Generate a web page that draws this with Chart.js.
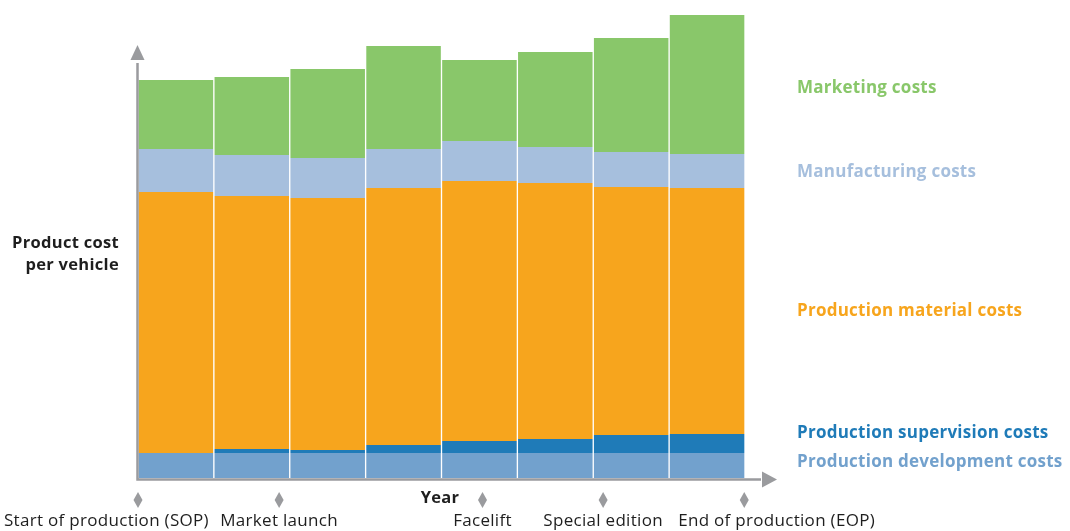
<!DOCTYPE html>
<html>
<head>
<meta charset="utf-8">
<script src="https://cdn.jsdelivr.net/npm/chart.js@4/dist/chart.umd.min.js"></script>
<style>
  html, body { margin: 0; padding: 0; background: #fff; }
  #wrap { width: 1070px; height: 531px; position: relative; }
</style>
</head>
<body>
<div id="wrap"><canvas id="costChart" width="1070" height="531"></canvas></div>
<script>
// data (arbitrary cost units)
const years = ['1', '2', '3', '4', '5', '6', '7', '8'];
const developmentCosts = [25, 25, 25, 25, 25, 25, 25, 25];
const supervisionCosts = [0, 4, 3, 8, 12, 14, 18, 19];
const materialCosts = [261, 253, 252, 257, 260, 256, 248, 246];
const manufacturingCosts = [43, 41, 40, 39, 40, 36, 35, 34];
const marketingCosts = [69, 78, 89, 103, 81, 95, 114, 139];

const seriesNames = ['Production development costs', 'Production supervision costs',
    'Production material costs', 'Manufacturing costs', 'Marketing costs'];
const seriesColors = ['#72a1cd', '#1f7bb8', '#f7a51d', '#a6bfdd', '#89c76a'];

// lifecycle events, position along the time axis (0 = first year start, 8 = last year end)
const eventNames = ['Start of production (SOP)', 'Market launch', 'Facelift', 'Special edition', 'End of production (EOP)'];
const eventPositions = [0, 1.86, 4.54, 6.13, 7.99];

const FONT = '"Open Sans", "DejaVu Sans", sans-serif';
const AXIS_GREY = '#9a9b9e';

const overlay = {
    id: 'overlay',
    afterDraw(chart) {
        const ctx = chart.ctx;
        const area = chart.chartArea;
        const ax = area.left - 0.5;
        const ay = area.bottom + 1.5;
        ctx.save();

        // axes with arrow heads
        ctx.strokeStyle = AXIS_GREY;
        ctx.fillStyle = AXIS_GREY;
        ctx.lineWidth = 2.5;
        ctx.beginPath();
        ctx.moveTo(ax, 63);
        ctx.lineTo(ax, ay);
        ctx.lineTo(761, ay);
        ctx.stroke();
        ctx.beginPath();
        ctx.moveTo(ax, 45);
        ctx.lineTo(ax - 7, 60);
        ctx.lineTo(ax + 7, 60);
        ctx.closePath();
        ctx.fill();
        ctx.beginPath();
        ctx.moveTo(777, ay);
        ctx.lineTo(762, ay - 8);
        ctx.lineTo(762, ay + 8);
        ctx.closePath();
        ctx.fill();

        // event diamonds + labels
        const span = (area.right - area.left) / years.length;
        ctx.font = '17px ' + FONT;
        ctx.letterSpacing = '0.3px';
        ctx.textBaseline = 'middle';
        eventNames.forEach((name, i) => {
            const x = area.left + eventPositions[i] * span;
            ctx.fillStyle = '#9a9b9e';
            ctx.beginPath();
            ctx.moveTo(x, 492);
            ctx.lineTo(x + 4.5, 500);
            ctx.lineTo(x, 508);
            ctx.lineTo(x - 4.5, 500);
            ctx.closePath();
            ctx.fill();
            ctx.fillStyle = '#1e1e1e';
            if (i === 0) {
                ctx.textAlign = 'left';
                ctx.fillText(name, 4, 521);
            } else if (i === eventNames.length - 1) {
                ctx.textAlign = 'right';
                ctx.fillText(name, 875, 521);
            } else {
                ctx.textAlign = 'center';
                ctx.fillText(name, x, 521);
            }
        });

        // axis titles
        ctx.fillStyle = '#1e1e1e';
        ctx.font = 'bold 16.5px ' + FONT;
        ctx.letterSpacing = '0.3px';
        ctx.textAlign = 'center';
        ctx.fillText('Year', 440, 498);
        ctx.textAlign = 'right';
        ctx.fillText('Product cost', 119, 243);
        ctx.fillText('per vehicle', 119, 265);

        // series labels next to the last bar
        const nudge = [-3, -10, 0, 1, 4];
        ctx.font = 'bold 17px ' + FONT;
        ctx.letterSpacing = '0.25px';
        ctx.textAlign = 'left';
        chart.data.datasets.forEach((ds, i) => {
            const bar = chart.getDatasetMeta(i).data[years.length - 1];
            const mid = (bar.y + bar.base) / 2 + nudge[i];
            ctx.fillStyle = ds.backgroundColor;
            ctx.fillText(ds.label, 797, mid);
        });
        ctx.restore();
    }
};

const stacks = [developmentCosts, supervisionCosts, materialCosts, manufacturingCosts, marketingCosts];

new Chart(document.getElementById('costChart').getContext('2d'), {
    type: 'bar',
    data: {
        labels: years,
        datasets: stacks.map((values, i) => ({
            label: seriesNames[i],
            data: values,
            backgroundColor: seriesColors[i],
            borderColor: '#ffffff',
            borderWidth: { left: 1, right: 1, top: 0, bottom: 0 },
            borderSkipped: false,
            barPercentage: 1,
            categoryPercentage: 1
        }))
    },
    options: {
        responsive: false,
        animation: false,
        layout: { padding: { left: 138, right: 325, top: 8, bottom: 53 } },
        plugins: { legend: { display: false }, tooltip: { enabled: false } },
        scales: {
            x: { stacked: true, display: false },
            y: { stacked: true, display: false, min: 0, max: 470 }
        }
    },
    plugins: [overlay]
});
</script>
</body>
</html>
